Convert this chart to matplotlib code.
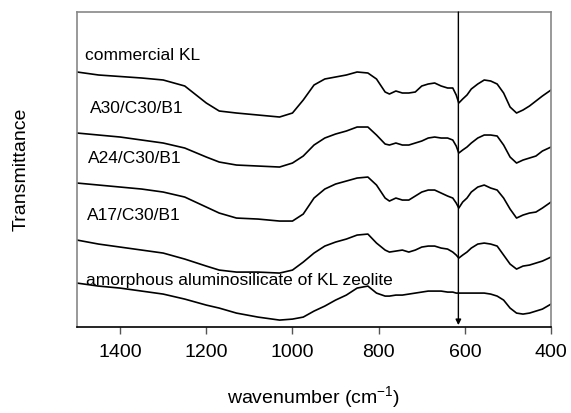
import matplotlib
matplotlib.use("Agg")
import matplotlib.pyplot as plt

# FTIR spectra (wavenumber grid shared by all curves), stacked, arbitrary units
wavenumber = [1500, 1450, 1400, 1350, 1300, 1250, 1200, 1170, 1130, 1080, 1030,
              1000, 975, 950, 925, 900, 875, 850, 825, 805, 785, 775, 760, 745,
              730, 715, 700, 685, 670, 655, 640, 628, 620, 614, 605, 595, 585,
              570, 555, 540, 525, 510, 495, 480, 465, 450, 435, 420, 400]

commercial_kl = [255, 252, 250.5, 249, 247, 241, 224, 216, 214, 212, 210,
                 214, 227, 242, 248, 250, 252, 255, 254, 248, 235, 233, 236, 234,
                 234, 235, 241, 243, 244, 241, 239, 239, 232, 224, 228, 232, 238,
                 243, 247, 246, 243, 234, 220, 214, 217, 221, 226, 231, 237]

a30_c30_b1 = [194, 192, 190, 187, 184, 179, 170, 165, 162, 161, 160,
              164, 171, 182, 189, 193, 196, 200, 200, 192, 183, 182, 184, 182,
              182, 184, 186, 189, 190, 189, 189, 187, 181, 174, 177, 180, 184,
              189, 192, 192, 191, 182, 170, 164, 167, 169, 171, 176, 180]

a24_c30_b1 = [144, 142, 140, 138, 135, 130, 120, 114, 109, 108, 106,
              106, 113, 129, 138, 143, 146, 149, 150, 142, 129, 126, 129, 127,
              127, 131, 135, 137, 137, 134, 131, 129, 124, 119, 125, 129, 135,
              140, 142, 139, 137, 129, 118, 109, 112, 114, 115, 119, 125]

a17_c30_b1 = [87, 83, 80, 77, 74, 68, 61, 57, 55, 55, 54,
              57, 65, 74, 81, 85, 88, 92, 93, 84, 77, 75, 76, 77,
              75, 77, 80, 81, 81, 79, 78, 75, 72, 69, 72, 75, 79,
              83, 84, 83, 81, 72, 63, 58, 61, 62, 64, 66, 70]

amorphous = [44, 41, 39, 36, 33, 28, 22, 19, 14, 10, 7,
             8, 10, 16, 21, 27, 32, 39, 41, 34, 31, 31, 32, 32,
             33, 34, 35, 36, 36, 36, 35, 35, 34, 34, 34, 34, 34,
             34, 34, 33, 31, 27, 19, 14, 13, 14, 16, 18, 23]

series = [commercial_kl, a30_c30_b1, a24_c30_b1, a17_c30_b1, amorphous]
labels = ["commercial KL", "A30/C30/B1", "A24/C30/B1", "A17/C30/B1",
          "amorphous aluminosilicate of KL zeolite"]
label_pos = [(1481, 271), (1470, 219), (1474, 169), (1477, 112), (1479, 47)]
marker_wn = 615


def main() -> None:
    plt.rcParams["font.family"] = ["Liberation Sans", "DejaVu Sans"]
    plt.rcParams["mathtext.fontset"] = "custom"
    plt.rcParams["mathtext.rm"] = "Liberation Sans"

    fig = plt.figure(figsize=(5.71, 4.13), dpi=100)
    ax = fig.add_axes([0.1349, 0.208, 0.8301, 0.763])

    for y in series:
        ax.plot(wavenumber, y, color="black", linewidth=1.2)

    for text, (x, y) in zip(labels, label_pos):
        ax.text(x, y, text, fontsize=12.5, ha="left", va="center")

    # marker arrow at ~615 cm-1
    ax.annotate(
        "",
        xy=(marker_wn, 2),
        xytext=(marker_wn, 315),
        arrowprops=dict(arrowstyle="-|>", color="black", linewidth=1.0,
                        mutation_scale=8, shrinkA=0, shrinkB=0),
    )

    ax.set_xlim(1500, 400)
    ax.set_ylim(0, 315)
    ax.set_xticks([1400, 1200, 1000, 800, 600, 400])
    ax.set_yticks([])
    ax.tick_params(axis="x", direction="out", length=5, width=1.0,
                   color="#555555", labelsize=14, pad=7)

    for side in ("left", "top", "right"):
        ax.spines[side].set_color("#888888")
        ax.spines[side].set_linewidth(1.2)
    ax.spines["bottom"].set_color("black")
    ax.spines["bottom"].set_linewidth(1.2)

    ax.set_xlabel(r"wavenumber (cm$^{\mathregular{-1}}$)", fontsize=14, labelpad=17)
    ax.set_ylabel("Transmittance", fontsize=14, labelpad=34)

    fig.savefig("out.png", dpi=100)
    plt.close(fig)


if __name__ == "__main__":
    main()
